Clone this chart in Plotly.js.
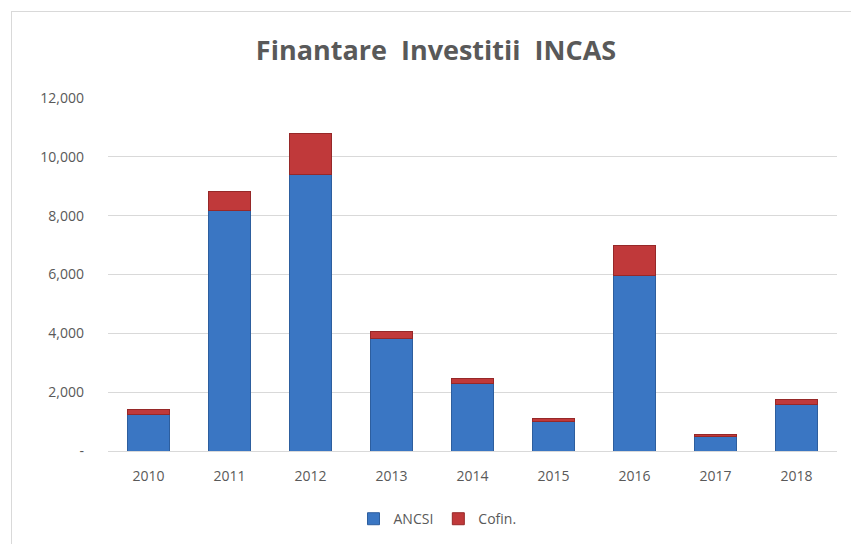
<!DOCTYPE html>
<html>
<head>
<meta charset="utf-8">
<script src="https://cdn.plot.ly/plotly-3.0.1.min.js"></script>
<style>
  html, body { margin: 0; padding: 0; background: #fff; }
  #wrap { position: relative; width: 851px; height: 544px; overflow: hidden; }
  #frame { position: absolute; left: 11px; top: 11px; width: 900px; height: 600px; border: 1.5px solid #d9d9d9; box-sizing: border-box; pointer-events: none; }
  #chart { position: absolute; left: 0; top: 0; width: 851px; height: 544px; }
</style>
</head>
<body>
<div id="wrap">
  <div id="chart"></div>
  <div id="frame"></div>
</div>
<script>
const years = ['2010', '2011', '2012', '2013', '2014', '2015', '2016', '2017', '2018'];
const ancsi = [1250, 8170, 9390, 3830, 2300, 1010, 5950, 490, 1590];
const cofin = [150, 650, 1390, 230, 180, 110, 1050, 65, 170];
const yTickVals = [0, 2000, 4000, 6000, 8000, 10000, 12000];
const yTickText = ['-', '2,000', '4,000', '6,000', '8,000', '10,000', '12,000'];

const font = 'Open Sans, Noto Sans, sans-serif';
const grey = '#595959';

const traces = [
  {
    type: 'bar', name: 'ANCSI', x: years, y: ancsi,
    marker: { color: '#3a76c3', line: { color: '#2d5e9e', width: 1 } },
    hoverinfo: 'x+y+name'
  },
  {
    type: 'bar', name: 'Cofin.', x: years, y: cofin,
    marker: { color: '#c0393a', line: { color: '#962828', width: 1 } },
    hoverinfo: 'x+y+name'
  }
];

const layout = {
  width: 851, height: 544,
  margin: { l: 108, r: 14, t: 98, b: 93, autoexpand: false },
  paper_bgcolor: '#ffffff',
  plot_bgcolor: '#ffffff',
  barmode: 'stack',
  bargap: 0.47,
  title: {
    text: '<b>Finantare  Investitii  INCAS</b>',
    font: { family: font, size: 27, color: grey },
    x: 436 / 851, xref: 'container', xanchor: 'center',
    y: 0.907, yref: 'container', yanchor: 'middle'
  },
  xaxis: {
    type: 'category',
    tickfont: { family: font, size: 14, color: grey },
    showgrid: false, zeroline: false,
    showline: true, linecolor: '#d9d9d9', linewidth: 1,
    ticks: '', ticklen: 0, ticklabelstandoff: 12
  },
  yaxis: {
    range: [0, 12000],
    tickvals: yTickVals, ticktext: yTickText,
    tickfont: { family: font, size: 14, color: grey },
    showgrid: true, gridcolor: '#d9d9d9', gridwidth: 1,
    zeroline: false, showline: false,
    ticks: '', ticklabelstandoff: 23
  },
  showlegend: true,
  legend: {
    orientation: 'h', x: 0.452, xanchor: 'center',
    y: -0.193, yanchor: 'middle',
    font: { family: font, size: 14, color: grey },
    itemwidth: 30, traceorder: 'normal'
  }
};

Plotly.newPlot('chart', traces, layout, { displayModeBar: false, staticPlot: true });
</script>
</body>
</html>
